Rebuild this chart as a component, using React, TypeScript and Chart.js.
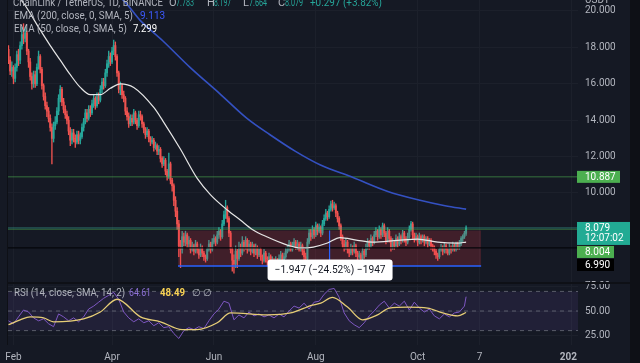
import React, { useEffect, useRef } from "react";
import { Chart, registerables } from "chart.js";

Chart.register(...registerables);

// ---------- DATA (daily candles, index 0 = 29 Jan 2022) ----------
const FIRST_OPEN = 17.9;
const closes = [
  17.3,16.7,16.9,16.3,16.9,17.6,17.3,18.1,18.7,18.5,
  18.8,17.8,17.2,16.4,16.0,16.5,16.0,16.9,17.5,16.8,
  15.9,15.3,14.8,14.5,14.1,13.6,13.0,13.7,13.9,14.5,
  15.2,15.7,15.0,14.6,14.3,14.0,13.4,12.9,13.3,13.0,
  12.8,13.2,12.9,13.1,13.6,13.9,14.4,14.1,14.6,14.4,
  14.9,15.2,14.8,15.3,15.1,15.7,16.1,15.9,16.6,17.1,
  17.5,17.2,17.8,18.1,17.5,16.6,15.7,15.9,15.4,15.2,
  14.5,14.2,13.8,14.1,13.9,14.4,14.0,13.7,14.3,14.2,
  13.8,13.5,13.2,13.4,13.0,12.8,12.9,12.5,12.6,12.3,
  12.4,11.9,11.6,11.8,11.2,10.9,11.6,10.7,10.4,9.6,
  9.0,8.3,7.1,6.9,7.6,7.3,7.7,7.2,7.4,6.9,
  7.1,6.8,7.2,6.9,6.6,7.0,6.7,6.5,6.4,6.9,
  7.2,6.9,7.3,7.5,7.3,7.7,7.9,7.6,8.3,8.8,
  9.2,8.6,7.8,6.9,6.3,6.1,6.8,6.4,7.0,6.7,
  7.3,7.0,7.4,6.9,7.2,6.8,7.1,6.7,7.0,6.6,
  6.9,6.5,6.3,6.7,6.4,6.2,6.5,6.1,6.3,6.0,
  6.3,6.1,6.4,6.6,6.3,6.5,6.8,6.9,7.2,6.9,
  7.1,7.3,7.0,7.2,6.9,7.1,6.8,6.5,6.4,7.3,
  7.8,7.6,8.0,7.7,8.2,7.9,8.1,7.8,8.3,8.6,
  8.9,8.7,9.1,9.4,9.2,9.3,8.9,8.6,8.2,7.6,
  7.2,7.0,7.3,6.9,6.7,7.0,6.8,7.1,6.7,6.5,
  6.6,6.4,6.8,6.6,7.0,7.3,7.1,7.5,7.3,7.7,
  7.9,7.6,8.0,7.7,8.2,7.8,7.4,7.9,7.5,7.0,
  7.3,7.1,7.5,7.2,7.6,7.4,7.8,7.5,7.3,7.6,
  8.0,8.3,7.7,7.5,7.6,7.3,7.6,7.4,7.6,7.3,
  7.5,7.2,7.4,7.1,7.0,6.8,6.6,6.5,6.9,7.0,
  6.8,7.1,6.9,6.7,7.0,6.9,7.1,6.9,7.2,7.0,
  7.2,7.5,7.6,7.783,8.079,
];
const highs = [
  18.1,17.5,17.2,17.0,17.1,17.8,17.9,18.3,19.1,19.3,
  19.1,18.9,17.9,17.4,16.6,16.7,16.7,17.1,17.8,17.6,
  16.9,16.0,15.5,15.0,14.7,14.3,13.8,13.9,14.2,14.7,
  15.4,15.9,15.8,15.2,14.8,14.5,14.2,13.6,13.5,13.5,
  13.2,13.4,13.4,13.3,13.8,14.1,14.6,14.6,14.8,14.8,
  15.1,15.4,15.3,15.5,15.5,15.9,16.3,16.3,16.8,17.3,
  17.8,17.7,18.0,18.4,18.3,17.6,16.7,16.1,16.0,15.6,
  15.3,14.7,14.4,14.3,14.3,14.6,14.5,14.1,14.5,14.5,
  14.3,13.9,13.6,13.6,13.5,13.1,13.1,13.0,12.8,12.7,
  12.6,12.5,12.0,12.0,11.9,11.3,12.2,11.7,10.8,10.5,
  9.8,9.2,8.5,7.4,7.9,7.8,7.9,7.8,7.6,7.5,
  7.3,7.2,7.4,7.3,7.0,7.2,7.1,6.8,6.6,7.0,
  7.4,7.3,7.5,7.7,7.6,7.9,8.1,8.0,8.5,9.0,
  9.6,9.3,8.7,7.9,7.0,6.6,7.1,6.9,7.3,7.2,
  7.6,7.4,7.6,7.5,7.4,7.3,7.3,7.2,7.2,7.1,
  7.0,7.0,6.6,6.9,6.8,6.5,6.7,6.6,6.5,6.4,
  6.5,6.4,6.6,6.8,6.7,6.7,7.0,7.1,7.4,7.3,
  7.3,7.5,7.4,7.4,7.3,7.3,7.2,6.9,6.7,7.5,
  8.0,8.0,8.2,8.1,8.4,8.3,8.3,8.2,8.5,8.8,
  9.1,9.0,9.3,9.55,9.6,9.5,9.4,9.0,8.7,8.3,
  7.7,7.4,7.5,7.4,7.0,7.2,7.1,7.3,7.2,6.8,
  6.8,6.7,7.0,6.9,7.2,7.5,7.4,7.7,7.6,7.9,
  8.1,8.0,8.2,8.1,8.35,8.3,7.9,8.1,8.0,7.6,
  7.5,7.4,7.7,7.6,7.8,7.7,7.95,7.9,7.6,7.8,
  8.2,8.45,8.4,7.8,7.8,7.7,7.8,7.7,7.7,7.7,
  7.6,7.6,7.5,7.5,7.2,7.1,6.9,6.7,7.0,7.2,
  7.1,7.25,7.2,7.0,7.2,7.1,7.3,7.2,7.3,7.3,
  7.4,7.6,7.7,7.9,8.197,
];
const lows = [
  17.1,16.5,16.4,16.0,16.1,16.7,17.0,17.1,17.9,18.2,
  18.3,17.6,16.9,16.2,15.7,15.8,15.8,15.9,16.8,16.6,
  15.7,15.1,14.6,14.2,13.9,13.4,11.6,12.8,13.5,13.8,
  14.3,15.0,14.8,14.4,14.1,13.8,13.2,12.6,12.7,12.8,
  12.5,12.7,12.7,12.7,13.0,13.4,13.8,13.9,14.0,14.2,
  14.3,14.7,14.6,14.7,14.9,15.0,15.5,15.7,15.8,16.4,
  16.9,17.0,17.1,17.6,17.3,16.4,15.5,15.4,15.2,15.0,
  14.3,14.0,13.6,13.7,13.7,13.8,13.8,13.5,13.6,14.0,
  13.6,13.3,13.0,13.1,12.8,12.6,12.7,12.3,12.4,12.1,
  12.1,11.7,11.4,11.5,11.0,10.7,10.8,10.5,10.1,9.3,
  8.7,8.0,6.5,5.9,6.7,7.1,7.1,7.0,7.0,6.7,
  6.8,6.6,6.7,6.7,6.4,6.5,6.5,6.3,6.2,6.3,
  6.8,6.7,6.8,7.2,7.1,7.2,7.5,7.4,7.5,8.2,
  8.6,8.4,7.6,6.7,5.7,5.6,5.9,5.9,6.3,6.5,
  6.6,6.8,6.9,6.7,6.8,6.6,6.7,6.5,6.6,6.4,
  6.5,6.3,6.1,6.2,6.2,6.0,6.1,5.9,6.0,5.8,
  5.9,5.9,6.0,6.3,6.1,6.2,6.4,6.7,6.8,6.8,
  6.8,7.0,6.9,6.9,6.8,6.8,6.6,6.3,6.2,6.3,
  7.2,7.4,7.5,7.5,7.6,7.7,7.8,7.6,7.7,8.2,
  8.5,8.5,8.6,9.0,9.0,9.1,8.7,8.4,8.0,7.4,
  7.0,6.8,6.9,6.7,6.5,6.6,6.6,6.7,6.5,6.3,
  6.4,6.25,6.3,6.4,6.5,6.9,6.9,7.0,7.1,7.2,
  7.6,7.4,7.5,7.5,7.6,7.6,7.2,7.3,7.3,6.8,
  6.9,6.9,7.0,7.0,7.1,7.2,7.3,7.3,7.1,7.2,
  7.5,7.9,7.5,7.3,7.4,7.1,7.2,7.2,7.3,7.1,
  7.2,7.0,7.1,6.9,6.8,6.6,6.4,6.3,6.4,6.8,
  6.6,6.7,6.7,6.6,6.6,6.7,6.8,6.8,6.8,6.9,
  6.9,7.1,7.3,7.5,7.664,
];

// EMA lines (day index, value)
const ema50Idx = [0,10,19,25,31,37,43,49,55,61,67,75,87,92.5,103,113,121,131,139,146,155,167,175,182.5,191,198.5,209,218,233,245,257,269,274];
const ema50Val = [21.5,20.3,18.96,18.1,17.3,16.5,15.8,15.4,15.4,15.75,16.0,15.8,14.7,13.95,12.4,10.8,9.9,9.07,8.5,8.0,7.58,7.14,6.98,7.03,7.25,7.55,7.4,7.3,7.4,7.47,7.3,7.25,7.299];
const ema200Idx = [62,68.6,78.7,92.5,108.7,126.6,142.8,156.6,171.6,186.5,206.3,226.7,246.4,261.4,274];
const ema200Val = [20.95,20.6,19.5,18.35,16.9,15.45,14.1,13.2,12.3,11.55,10.85,10.1,9.6,9.3,9.113];

// RSI sampled every 3rd day, plus the last day
const RSI_STEP = 3;
const rsiValues = [
  40,37,44,51,49,43,40,42,37,34,
  47,44,40,43,39,44,52,55,59,63,
  66,69,62,49,43,39,42,38,40,35,
  38,33,34,27,22,30,33,31,34,32,
  40,47,52,60,58,41,46,43,49,45,
  47,44,46,43,47,44,50,55,53,58,
  52,59,60,67,72,73,64,48,40,36,
  33,38,45,50,56,60,53,58,55,60,
  51,59,53,49,52,45,42,47,44,48,
  49,55,
];
const rsiLastIdx = 274;
const rsiLast = 64.61;
const rsiSmaIdx = [0,7,13,21,27,45,55,65,79,91,104,113,125,133,155,169,182,187,194,203,212,221,228,239,251,260,269,274];
const rsiSmaVal = [36,41,44,43,39,42,49,62,44,39,31,31,38,48,46,48,56,58,64,54,41,46,53,54,53,48,45,48.49];

// Axis ticks
const monthTickIdx = [3, 62, 123, 184, 245, 282, 337];
const monthTickLabels = ["Feb", "Apr", "Jun", "Aug", "Oct", "7", "2023"];
const priceTicks = [10, 12, 14, 16, 18, 20];
const rsiTicks = [25, 50, 75];
const rsiLevels = [70, 50, 30];

// Horizontal levels and the measured range
const levelResistance = 10.887;
const levelLast = 8.079;
const levelSupport = 8.004;
const levelLow = 6.99;
const measureFromIdx = 101.5;
const measureToIdx = 283;
const measureTop = 7.94;
const measureBottom = 5.993;
const measureText = "\u22121.947 (\u221224.52%) \u22121947";

// ---------- STYLE ----------
const W = 640;
const H = 363;
const BG = "#151924";
const GRID = "#1c202b";
const TICK = "#b2b5be";
const UP = "#26a69a";
const DOWN = "#ef5350";
const FONT = "Roboto, 'Noto Sans', sans-serif";
const X_MIN = -0.29;
const X_MAX = 341.0;
const PRICE_MIN = 5.055;
const PRICE_MAX = 20.604;
const RSI_MIN = 15.31;
const RSI_MAX = 78.57;

export default function App() {
  const ref = useRef<HTMLCanvasElement | null>(null);

  useEffect(() => {
    const canvas = ref.current;
    if (!canvas) return;
    const opens = closes.map((c, i) => (i === 0 ? FIRST_OPEN : closes[i - 1]));
    const colors = closes.map((c, i) => (c >= opens[i] ? UP : DOWN));

    const hLine = (v: number, color: string, width: number, order: number, axis = "y", dash: number[] = []) => ({
      type: "line",
      yAxisID: axis,
      data: [{ x: X_MIN, y: v }, { x: X_MAX, y: v }],
      borderColor: color,
      borderWidth: width,
      borderDash: dash,
      pointRadius: 0,
      fill: false,
      order,
    });

    const txt = (ctx: CanvasRenderingContext2D, s: string, x: number, y: number, color: string, maxW?: number) => {
      ctx.fillStyle = color;
      if (maxW) ctx.fillText(s, x, y, maxW);
      else ctx.fillText(s, x, y);
    };

    const decor = {
      id: "decor",
      beforeDraw(chart: any) {
        const c = chart.ctx;
        c.save();
        c.fillStyle = BG;
        c.fillRect(0, 0, W, H);
        c.restore();
      },
      afterDraw(chart: any) {
        const c: CanvasRenderingContext2D = chart.ctx;
        const ys = chart.scales.y;
        const xs = chart.scales.x;
        const area = chart.chartArea;
        c.save();
        // right dark strip, left edge, pane separator
        c.fillStyle = "#0e1016";
        c.fillRect(630, 0, 10, H);
        c.fillRect(7, 0, 1, area.bottom);
        c.fillRect(8, chart.scales.rsi.top - 1, 622, 2);
        // cover bottom-right corner (price axis column)
        c.fillStyle = BG;
        c.fillRect(577, area.bottom + 1, 53, H - area.bottom - 1);

        // header
        c.textBaseline = "alphabetic";
        c.textAlign = "left";
        c.font = `11px ${FONT}`;
        const G = "#26a69a";
        txt(c, "ChainLink / TetherUS, 1D, BINANCE", 13, 6, TICK, 150);
        txt(c, "O", 169, 6, TICK); txt(c, "7.783", 176, 6, G, 18);
        txt(c, "H", 207, 6, TICK); txt(c, "8.197", 214, 6, G, 17);
        txt(c, "L", 243, 6, TICK); txt(c, "7.664", 249, 6, G, 18);
        txt(c, "C", 278, 6, TICK); txt(c, "8.079", 285, 6, G, 18);
        txt(c, "+0.297 (+3.82%)", 310, 6, G, 72);
        c.font = `10px ${FONT}`;
        txt(c, "EMA (200, close, 0, SMA, 5)", 14, 19, TICK, 119);
        txt(c, "9.113", 140, 19, "#3d5afe", 28);
        txt(c, "EMA (50, close, 0, SMA, 5)", 14, 32, TICK, 113);
        txt(c, "7.299", 133, 32, "#ffffff", 24);
        txt(c, "USDT", 585, 3, TICK);
        // RSI legend
        txt(c, "RSI (14, close, SMA, 14, 2)", 14, 296, TICK, 111);
        txt(c, "64.61", 129, 296, "#8f72d8", 22);
        c.font = `bold 10px ${FONT}`;
        txt(c, "48.49", 160, 296, "#f7d154", 25);
        c.font = `10px ${FONT}`;
        txt(c, "\u2205", 192, 296, TICK);
        txt(c, "\u2205", 203, 296, TICK);

        // price badges
        const badge = (top: number, h: number, w: number, bg: string, lines: string[]) => {
          c.fillStyle = bg;
          c.fillRect(577, top, w, h);
          c.fillStyle = "#ffffff";
          c.textBaseline = "middle";
          c.font = `10px ${FONT}`;
          lines.forEach((s, k) => c.fillText(s, 585, top + 6.5 + k * 10.5));
        };
        const yr = ys.getPixelForValue(levelResistance);
        badge(yr - 6, 12, 43, "#4caf50", [levelResistance.toFixed(3)]);
        const yl = ys.getPixelForValue(levelLast);
        badge(yl - 6, 23, 53, "#22ab94", [levelLast.toFixed(3), "12:07:02"]);
        badge(yl + 18, 12, 37, "#4caf50", [levelSupport.toFixed(3)]);
        badge(yl + 31, 12, 37, "#000000", [levelLow.toFixed(3)]);

        // measurement label
        const mx = xs.getPixelForValue((measureFromIdx + measureToIdx) / 2);
        const my = ys.getPixelForValue(measureBottom) - 6.5;
        c.fillStyle = "#ffffff";
        c.beginPath();
        (c as any).roundRect(mx - 62, my, 125, 21, 3);
        c.fill();
        c.fillStyle = "#131722";
        c.textAlign = "center";
        c.textBaseline = "middle";
        c.font = `11px ${FONT}`;
        c.fillText(measureText, mx + 0.5, my + 11, 111);
        c.restore();
      },
    };

    const measureMid = (measureFromIdx + measureToIdx) / 2;

    const chart = new Chart(canvas, {
      type: "line",
      data: {
        datasets: [
          // RSI band and levels
          {
            ...hLine(rsiLevels[0], "rgba(140,143,155,0.55)", 1, 30, "rsi", [4, 4]),
            fill: { value: rsiLevels[2] },
            backgroundColor: "rgba(126,87,194,0.12)",
          },
          hLine(rsiLevels[1], "rgba(140,143,155,0.55)", 1, 29, "rsi", [4, 4]),
          hLine(rsiLevels[2], "rgba(140,143,155,0.55)", 1, 28, "rsi", [4, 4]),
          {
            type: "line",
            yAxisID: "rsi",
            data: [
              ...rsiValues.map((v, k) => ({ x: k * RSI_STEP, y: v })),
              { x: rsiLastIdx, y: rsiLast },
            ],
            borderColor: "#7e57c2",
            borderWidth: 1,
            pointRadius: 0,
            fill: false,
            order: 3,
          },
          {
            type: "line",
            yAxisID: "rsi",
            data: rsiSmaIdx.map((x, k) => ({ x, y: rsiSmaVal[k] })),
            borderColor: "#e6cd76",
            borderWidth: 1.3,
            pointRadius: 0,
            cubicInterpolationMode: "monotone",
            fill: false,
            order: 2,
          },
          // candles: wicks and bodies
          {
            type: "bar",
            yAxisID: "y",
            data: lows.map((l, i) => ({ x: i, y: [l, highs[i]] })),
            backgroundColor: colors,
            borderWidth: 0,
            barThickness: 0.7,
            grouped: false,
            order: 26,
          },
          {
            type: "bar",
            yAxisID: "y",
            data: closes.map((c, i) => ({ x: i, y: [opens[i], c] })),
            backgroundColor: colors,
            borderWidth: 0,
            barThickness: 1.3,
            minBarLength: 1,
            grouped: false,
            order: 25,
          },
          // measured range fill
          {
            type: "line",
            yAxisID: "y",
            data: [{ x: measureFromIdx, y: measureTop }, { x: measureToIdx, y: measureTop }],
            borderWidth: 0,
            borderColor: "rgba(0,0,0,0)",
            pointRadius: 0,
            fill: { value: measureBottom },
            backgroundColor: "rgba(242,54,69,0.2)",
            order: 24,
          },
          // horizontal levels
          hLine(levelResistance, "rgba(76,175,80,0.6)", 1, 20),
          hLine(levelSupport, "rgba(76,175,80,0.5)", 1, 19),
          hLine(levelLast, "rgba(60,180,160,0.55)", 1, 18),
          hLine(levelLow, "#05060a", 1.2, 17),
          // measure lines
          {
            type: "line",
            yAxisID: "y",
            data: [{ x: measureFromIdx, y: measureBottom }, { x: measureToIdx, y: measureBottom }],
            borderColor: "#2962ff",
            borderWidth: 1.5,
            pointRadius: 0,
            fill: false,
            order: 16,
          },
          {
            type: "line",
            yAxisID: "y",
            data: [{ x: measureMid, y: measureTop }, { x: measureMid, y: measureBottom }],
            borderColor: "#2962ff",
            borderWidth: 1.2,
            pointRadius: 0,
            fill: false,
            order: 15,
          },
          // EMAs
          {
            type: "line",
            yAxisID: "y",
            data: ema200Idx.map((x, k) => ({ x, y: ema200Val[k] })),
            borderColor: "#3451c2",
            borderWidth: 1.6,
            pointRadius: 0,
            cubicInterpolationMode: "monotone",
            fill: false,
            order: 5,
          },
          {
            type: "line",
            yAxisID: "y",
            data: ema50Idx.map((x, k) => ({ x, y: ema50Val[k] })),
            borderColor: "#e6e6e6",
            borderWidth: 1.2,
            pointRadius: 0,
            cubicInterpolationMode: "monotone",
            fill: false,
            order: 4,
          },
        ] as any,
      },
      options: {
        responsive: false,
        devicePixelRatio: 1,
        animation: false,
        events: [],
        layout: { padding: { left: 8, right: 10, top: 0, bottom: 0 } },
        plugins: { legend: { display: false }, tooltip: { enabled: false } },
        scales: {
          x: {
            type: "linear",
            min: X_MIN,
            max: X_MAX,
            offset: false,
            position: "bottom",
            afterBuildTicks: (s: any) => {
              s.ticks = monthTickIdx.map((v) => ({ value: v }));
            },
            afterFit: (s: any) => {
              s.height = 18;
              s.paddingLeft = 0;
              s.paddingRight = 0;
            },
            ticks: {
              autoSkip: false,
              maxRotation: 0,
              minRotation: 0,
              padding: 6,
              color: TICK,
              font: (ctx: any) => ({
                family: FONT,
                size: 10,
                weight: ctx.tick && ctx.tick.value === 337 ? "bold" : "normal",
              }),
              callback: (_v: any, i: number) => monthTickLabels[i],
            },
            grid: { color: GRID, drawTicks: false, offset: false },
            border: { display: false },
          },
          y: {
            type: "linear",
            position: "right",
            stack: "panes",
            stackWeight: 283,
            min: PRICE_MIN,
            max: PRICE_MAX,
            afterBuildTicks: (s: any) => {
              s.ticks = priceTicks.map((v) => ({ value: v }));
            },
            afterFit: (s: any) => {
              s.width = 52;
              s.paddingTop = 0;
              s.paddingBottom = 0;
            },
            ticks: {
              padding: 7,
              color: TICK,
              font: { family: FONT, size: 10 },
              callback: (v: any) => Number(v).toFixed(3),
            },
            grid: { color: GRID, drawTicks: false },
            border: { display: false },
          },
          rsi: {
            type: "linear",
            position: "right",
            stack: "panes",
            stackWeight: 62,
            min: RSI_MIN,
            max: RSI_MAX,
            afterBuildTicks: (s: any) => {
              s.ticks = rsiTicks.map((v) => ({ value: v }));
            },
            afterFit: (s: any) => {
              s.width = 52;
              s.paddingTop = 0;
              s.paddingBottom = 0;
            },
            ticks: {
              padding: 7,
              color: TICK,
              font: { family: FONT, size: 10 },
              callback: (v: any) => Number(v).toFixed(2),
            },
            grid: { color: GRID, drawTicks: false },
            border: { display: false },
          },
        } as any,
      },
      plugins: [decor],
    });

    return () => chart.destroy();
  }, []);

  return (
    <div style={{ position: "fixed", left: 0, top: 0, width: W, height: H, background: BG }}>
      <canvas ref={ref} width={W} height={H} style={{ display: "block", width: W, height: H }} />
    </div>
  );
}
